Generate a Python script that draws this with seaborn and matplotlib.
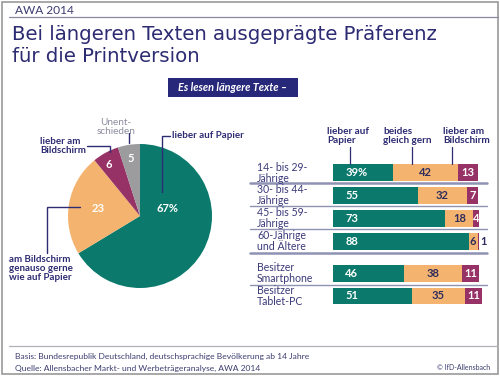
import matplotlib
matplotlib.use("Agg")
import matplotlib.pyplot as plt
import seaborn as sns
import pandas as pd
import numpy as np

# ---------------- data ----------------
pie_labels = ["lieber auf Papier", "am Bildschirm genauso gerne wie auf Papier",
              "lieber am Bildschirm", "Unentschieden"]
pie_values = [67, 23, 6, 5]
pie_texts = ["67%", "23", "6", "5"]

groups = ["14- bis 29-\nJährige", "30- bis 44-\nJährige", "45- bis 59-\nJährige",
          "60-Jährige\nund Ältere", "Besitzer\nSmartphone", "Besitzer\nTablet-PC"]
papier = [39, 55, 73, 88, 46, 51]
beides = [42, 32, 18, 6, 38, 35]
bildschirm = [13, 7, 4, 1, 11, 11]
papier_texts = ["39%", "55", "73", "88", "46", "51"]
series_names = ["lieber auf\nPapier", "beides\ngleich gern", "lieber am\nBildschirm"]

# ---------------- style ----------------
sns.set_style("white")
plt.rcParams["font.family"] = ["Lato", "DejaVu Sans"]

TEAL = "#0b7a6c"
ORANGE = "#f4b470"
PURPLE = "#973266"
GRAY = "#9c9c9e"
NAVY = "#2d2b72"
LABEL = "#3b3a7a"
LINE = "#8f93b3"

W, H = 500, 376
fig = plt.figure(figsize=(W / 100, H / 100), dpi=100)
fig.patch.set_facecolor("white")


def fx(x):
    return x / W


def fy(y):
    return 1 - y / H


# frame + header line + footer line
fig.add_artist(plt.Rectangle((fx(2), fy(374)), fx(496), 372 / H, fill=False,
                             edgecolor="#9a9a9a", lw=1.2, transform=fig.transFigure))
fig.add_artist(plt.Line2D([fx(9), fx(498)], [fy(17), fy(17)], color="#8a8aa0", lw=0.9,
                          transform=fig.transFigure))
fig.add_artist(plt.Line2D([fx(9), fx(498)], [fy(346), fy(346)], color="#b0b0b8", lw=0.9,
                          transform=fig.transFigure))

fig.text(fx(15), fy(10), "AWA 2014", fontsize=8.6, color="#3c3c70", va="center", ha="left")
title_kw = dict(fontsize=14.2, color=NAVY, va="center", ha="left",
                family=["DejaVu Sans"])
fig.text(fx(12), fy(35), "Bei längeren Texten ausgeprägte Präferenz", **title_kw)
fig.text(fx(12), fy(56), "für die Printversion", **title_kw)

# subtitle box
fig.add_artist(plt.Rectangle((fx(168), fy(97)), fx(130), 19 / H, facecolor="#27287a",
                             edgecolor="none", transform=fig.transFigure))
fig.text(fx(233), fy(87.5), "Es lesen längere Texte –", fontsize=7.8, color="white",
         fontweight="bold", fontstyle="italic", va="center", ha="center")

# footer
fig.text(fx(15), fy(356), "Basis: Bundesrepublik Deutschland, deutschsprachige Bevölkerung ab 14 Jahre",
         fontsize=6.1, color="#3c3c70", va="center", ha="left")
fig.text(fx(15), fy(368), "Quelle: Allensbacher Markt- und Werbeträgeranalyse, AWA 2014",
         fontsize=6.1, color="#3c3c70", va="center", ha="left")
fig.text(fx(490), fy(368), "© IfD-Allensbach", fontsize=5.0, color="#3c3c70",
         va="center", ha="right")

# ---------------- pie ----------------
cx, cy, r = 140, 216, 72
pax = fig.add_axes([fx(cx - r), fy(cy + r), 2 * r / W, 2 * r / H])
pax.pie(pie_values, colors=[TEAL, ORANGE, PURPLE, GRAY], startangle=90,
        counterclock=False, wedgeprops=dict(linewidth=0))
pax.set_xlim(-1, 1)
pax.set_ylim(-1, 1)
pax.set_aspect("equal")
pax.axis("off")


def pd_(x, y):
    return (x - cx) / r, (cy - y) / r


pie_pos = [(167, 208), (98, 208), (109, 164), (131, 158)]
for t, (x, y) in zip(pie_texts, pie_pos):
    pax.text(*pd_(x, y), t, color="white", fontsize=8, fontweight="bold",
             ha="center", va="center")


def pline(pts):
    xs, ys = zip(*[pd_(x, y) for x, y in pts])
    pax.plot(xs, ys, color=NAVY, lw=1.0, clip_on=False, solid_joinstyle="miter")


pline([(170, 136), (162, 136), (162, 192)])
pax.text(*pd_(172, 136), pie_labels[0], color=NAVY, fontsize=7, fontweight="bold",
         ha="left", va="center")
pline([(129, 133), (129, 143)])
pax.text(*pd_(116, 127), "Unent-\nschieden", color="#8c8ca0", fontsize=7.2,
         ha="center", va="center", linespacing=1.0)
pline([(87, 146), (110, 146), (110, 152)])
pax.text(*pd_(40, 146), "lieber am\nBildschirm", color=NAVY, fontsize=7,
         fontweight="bold", ha="left", va="center", linespacing=1.0)
pline([(47, 253), (47, 207), (80, 207)])
pax.text(*pd_(9, 268.5), "am Bildschirm\ngenauso gerne\nwie auf Papier", color=NAVY,
         fontsize=7, fontweight="bold", ha="left", va="center", linespacing=1.0)

# ---------------- stacked bars ----------------
ypos = [0, 1, 2, 3, 4.4, 5.4]
df = pd.DataFrame({"group": groups, "y": ypos, "papier": papier,
                   "beides": beides, "bildschirm": bildschirm})
df["c1"] = df["papier"]
df["c2"] = df["papier"] + df["beides"]
df["c3"] = df["c2"] + df["bildschirm"]

px_per_unit = 22.87
bx0, bx1 = 333, 487
top_px = 172.5 - 0.5 * px_per_unit
bot_px = 296 + 0.5 * px_per_unit
bax = fig.add_axes([fx(bx0), fy(bot_px), (bx1 - bx0) / W, (bot_px - top_px) / H])
for col, colr in [("c3", PURPLE), ("c2", ORANGE), ("c1", TEAL)]:
    sns.barplot(data=df, x=col, y="y", orient="y", native_scale=True, color=colr,
                width=0.74, saturation=1, linewidth=0, ax=bax, errorbar=None)
bax.set_xlim(0, 100)
bax.set_ylim(5.9, -0.5)
bax.axis("off")

for i, y in enumerate(ypos):
    bax.text(8, y, papier_texts[i], color="white", fontsize=8, fontweight="bold",
             ha="left", va="center")
    bax.text(papier[i] + beides[i] / 2, y, str(beides[i]), color="#2e2c5c", fontsize=8,
             fontweight="bold", ha="center", va="center")
    if bildschirm[i] >= 3:
        bax.text(papier[i] + beides[i] + bildschirm[i] / 2, y, str(bildschirm[i]),
                 color="white", fontsize=8, fontweight="bold", ha="center", va="center")
    else:
        bax.text(97.5, y, str(bildschirm[i]), color="#2e2c5c", fontsize=8,
                 fontweight="bold", ha="center", va="center", clip_on=False)
    bax.text(-49.4, y, groups[i], color=LABEL, fontsize=7.6, ha="left", va="center",
             linespacing=1.0, clip_on=False)

xl = (250 - bx0) / 1.54
for y, lw in [(0.47, 1.8), (1.47, 1.0), (2.47, 1.0), (3.52, 1.8), (4.92, 1.0)]:
    bax.plot([xl, 100], [y, y], color=LINE, lw=lw, clip_on=False)

# column headers
hdr_x = [327, 383, 443]
lead_x = [350, 412, 452]
for name, hx, lx in zip(series_names, hdr_x, lead_x):
    fig.text(fx(hx), fy(136), name, color=NAVY, fontsize=7.2, fontweight="bold",
             ha="left", va="center", linespacing=1.0)
    fig.add_artist(plt.Line2D([fx(lx), fx(lx)], [fy(147), fy(164)], color=NAVY, lw=0.9,
                              transform=fig.transFigure))

fig.savefig("out.png", dpi=100)
